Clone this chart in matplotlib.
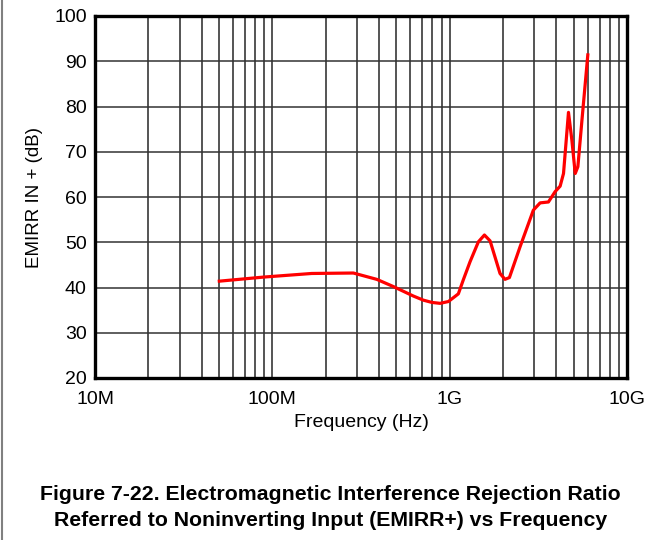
import matplotlib
matplotlib.use('Agg')
import matplotlib.pyplot as plt
import numpy as np
from matplotlib.ticker import LogLocator, NullFormatter

plt.rcParams['font.family'] = ['Liberation Sans', 'DejaVu Sans']

# 读取的曲线数据 (log10 频率, dB)
log_freq = [7.701, 7.95, 8.222, 8.457, 8.589, 8.683, 8.796, 8.852, 8.90, 8.946,
            8.993, 9.049, 9.077, 9.115, 9.162, 9.196, 9.228, 9.284, 9.312, 9.337,
            9.397, 9.472, 9.510, 9.557, 9.595, 9.623, 9.642, 9.670, 9.689, 9.708,
            9.723, 9.746, 9.779]
emirr = [41.4, 42.3, 43.1, 43.2, 41.8, 40.2, 38.1, 37.2, 36.7, 36.5,
         36.9, 38.6, 41.7, 45.7, 50.1, 51.6, 50.3, 43.1, 41.8, 42.2,
         49.0, 57.1, 58.7, 58.9, 61.2, 62.4, 65.2, 78.7, 72.6, 65.2,
         66.7, 77.0, 91.4]
freq = [10 ** v for v in log_freq]

x_ticks = [1e7, 1e8, 1e9, 1e10]
x_labels = ['10M', '100M', '1G', '10G']
y_ticks = [20, 30, 40, 50, 60, 70, 80, 90, 100]

fig = plt.figure(figsize=(6.61, 5.4), dpi=100)
ax = fig.add_axes([95 / 661, 1 - 378 / 540, 532 / 661, 362 / 540])

ax.plot(freq, emirr, color='red', linewidth=2.3, zorder=3)

ax.set_xscale('log')
ax.set_xlim(1e7, 1e10)
ax.set_ylim(20, 100)
ax.set_xticks(x_ticks)
ax.set_xticklabels(x_labels)
ax.xaxis.set_minor_locator(LogLocator(base=10, subs=np.arange(2, 10)))
ax.xaxis.set_minor_formatter(NullFormatter())
ax.set_yticks(y_ticks)

ax.grid(True, which='both', axis='x', color='0.15', linewidth=1.1)
ax.grid(True, which='major', axis='y', color='0.2', linewidth=1.1)
ax.tick_params(which='both', length=0, labelsize=14)
ax.tick_params(axis='x', pad=9)
ax.tick_params(axis='y', pad=6)

for sp in ax.spines.values():
    sp.set_linewidth(2.4)

ax.set_xlabel('Frequency (Hz)', fontsize=14, labelpad=5)
ax.set_ylabel('EMIRR IN + (dB)', fontsize=13.5, labelpad=8)

# 图注
fig.text(0.5, 1 - 495 / 540, 'Figure 7-22. Electromagnetic Interference Rejection Ratio',
         ha='center', va='center', fontsize=15.3, fontweight='bold')
fig.text(0.5, 1 - 520 / 540, 'Referred to Noninverting Input (EMIRR+) vs Frequency',
         ha='center', va='center', fontsize=15.3, fontweight='bold')

# 左侧页面边框
fig.add_artist(plt.Line2D([1.5 / 661, 1.5 / 661], [0, 1], color='0.5', linewidth=1.5))

fig.savefig('out.png', dpi=100)
